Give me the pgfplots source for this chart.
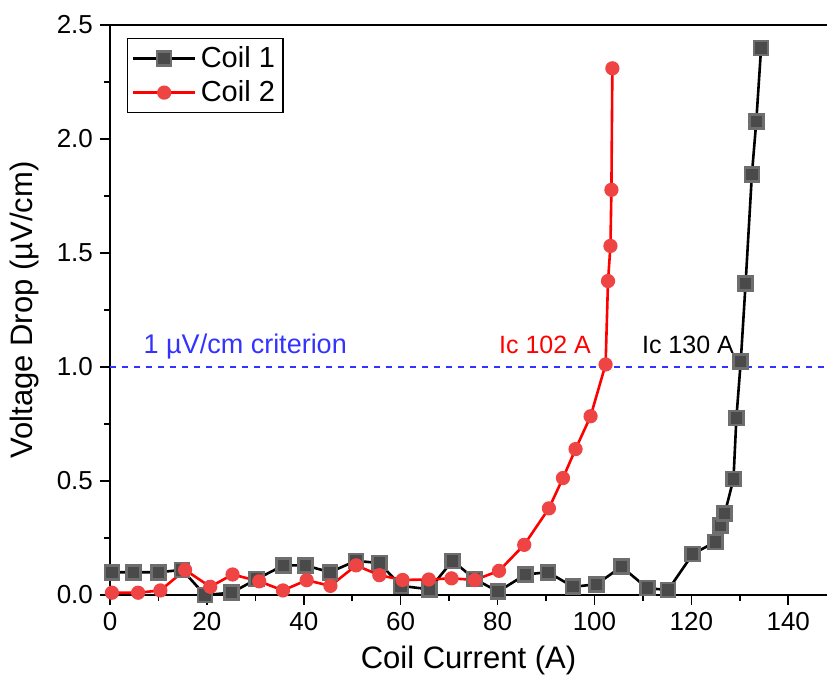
\documentclass[border=0pt]{standalone}
\usepackage{pgfplots}
\pgfplotsset{compat=1.18}
\usepackage{fontspec}
\setmainfont{Liberation Sans}
\definecolor{sqgray}{HTML}{4A4A4A}
\definecolor{cred}{HTML}{FF0000}
\definecolor{cfill}{HTML}{EE4444}
\definecolor{critblue}{HTML}{3333FF}
\begin{document}
\begin{tikzpicture}
\begin{axis}[
  scale only axis,
  width=358.5pt, height=285pt,
  xmin=0, xmax=148, ymin=0, ymax=2.5,
  axis x line*=bottom, axis y line*=left,
  axis line style={line width=1pt},
  xtick={0,20,...,140}, minor xtick={10,30,...,150},
  ytick={0,0.5,...,2.5}, minor ytick={0.25,0.75,...,2.25},
  tick align=outside,
  major tick length=5pt, minor tick length=3pt,
  every tick/.style={line width=0.8pt, black},
  /pgf/number format/assume math mode=true,
  yticklabel style={/pgf/number format/fixed, /pgf/number format/fixed zerofill, /pgf/number format/precision=1},
  ticklabel style={font=\fontsize{13}{15}\selectfont},
  xlabel={Coil Current (A)}, ylabel={Voltage Drop (µV/cm)},
  label style={font=\fontsize{15.5}{18}\selectfont},
  xlabel style={at={(axis description cs:0.5,-0.114)}, anchor=center},
  ylabel style={at={(axis description cs:-0.1186,0.5)}, anchor=center},
  legend style={at={(8.5pt,278.5pt)}, anchor=north west, draw=black, line width=0.6pt,
    font=\fontsize{14.5}{17}\selectfont, row sep=1pt, inner sep=2pt},
  legend image code/.code={\draw[mark repeat=2,mark phase=2,#1] plot coordinates {(0cm,0cm) (0.55cm,0cm) (1.1cm,0cm)};},
  legend cell align=left,
  clip=false,
]
\addplot[dashed, line width=0.7pt, forget plot, color=critblue] coordinates {(0,1) (148,1)};
\addplot[black, line width=1.3pt, mark=square*, mark size=3.5pt,
  mark options={solid, fill=sqgray, draw=sqgray!80}] coordinates {
(0.4,0.10) (4.9,0.10) (10.0,0.10) (14.9,0.11) (19.6,0.00) (25.1,0.01) (30.3,0.07)
(35.8,0.13) (40.3,0.13) (45.4,0.10) (50.8,0.15) (55.6,0.14) (60.1,0.04) (65.9,0.025)
(70.7,0.15) (75.3,0.07) (80.1,0.015) (85.8,0.09) (90.4,0.10) (95.6,0.036) (100.4,0.047)
(105.6,0.124) (110.9,0.03) (115.2,0.022) (120.3,0.18) (125.0,0.233) (126.0,0.306)
(126.9,0.358) (128.7,0.509) (129.3,0.777) (130.2,1.025) (131.2,1.367) (132.5,1.845)
(133.4,2.076) (134.4,2.40)
};
\addlegendentry{Coil 1}
\addplot[cred, line width=1.3pt, mark=*, mark size=2.9pt,
  mark options={solid, fill=cfill, draw=cfill}] coordinates {
(0.4,0.01) (5.8,0.01) (10.4,0.02) (15.5,0.11) (20.7,0.036) (25.3,0.09) (30.8,0.06)
(35.7,0.02) (40.6,0.065) (45.5,0.04) (50.8,0.13) (55.6,0.087) (60.4,0.066) (65.8,0.068)
(70.5,0.073) (75.3,0.066) (80.3,0.106) (85.5,0.22) (90.6,0.38) (93.5,0.513) (96.1,0.64)
(99.2,0.784) (102.3,1.011) (102.8,1.377) (103.3,1.531) (103.5,1.777) (103.7,2.31)
};
\addlegendentry{Coil 2}
\draw[line width=1pt] (rel axis cs:0,1) -- (rel axis cs:1,1);
\node[critblue, font=\fontsize{13.5}{16}\selectfont, anchor=base west] at (axis cs:5.5,1.06) {1 µV/cm criterion};
\node[cred, font=\fontsize{12.5}{15}\selectfont, anchor=base] at (axis cs:89.8,1.06) {Ic 102 A};
\node[black, font=\fontsize{12.5}{15}\selectfont, anchor=base] at (axis cs:119.3,1.06) {Ic 130 A};
\end{axis}
\pgfresetboundingbox
\path (-55pt,-43.5pt) rectangle (358.5pt,297.5pt);
\end{tikzpicture}
\end{document}
